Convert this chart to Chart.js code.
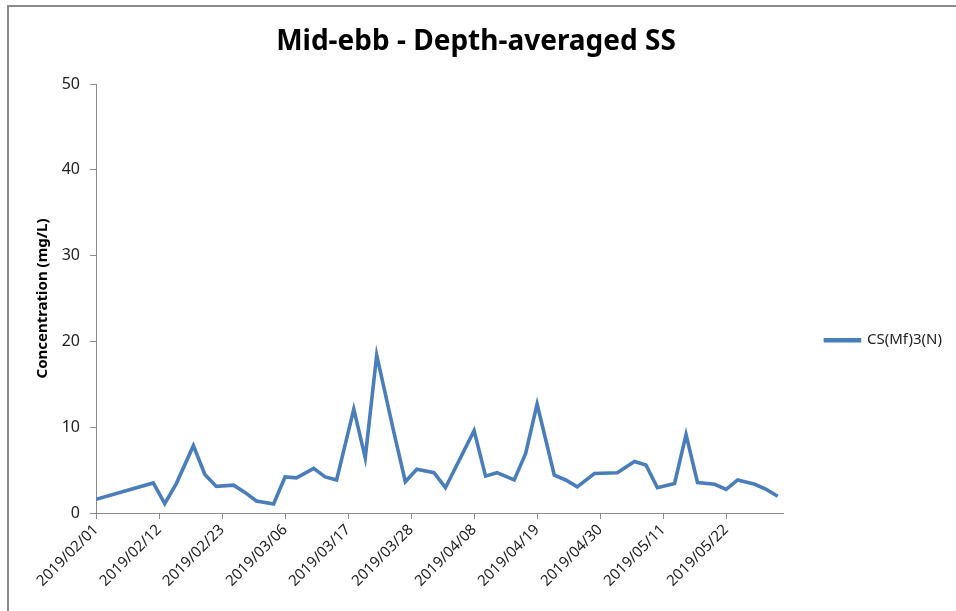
<!DOCTYPE html>
<html>
<head>
<meta charset="utf-8">
<script src="https://cdn.jsdelivr.net/npm/chart.js@4.4.1/dist/chart.umd.min.js"></script>
<style>
  html, body { margin: 0; padding: 0; background: #fff; }
  #wrap { position: relative; width: 956px; height: 611px; overflow: hidden; }
  #frame { position: absolute; left: 7px; top: 5px; width: 2000px; height: 2000px;
           border-left: 2px solid #8c8c8c; border-top: 2px solid #8c8c8c; }
  #grafico { position: absolute; left: 0; top: 0; }
</style>
</head>
<body>
<div id="wrap">
  <div id="frame"></div>
  <canvas id="grafico" width="956" height="611"></canvas>
</div>
<script>
// Datas de amostragem (Seg/Qua/Sex) e concentrações
const sampleDates = [
  '2019/02/01', '2019/02/11', '2019/02/13', '2019/02/15', '2019/02/18', '2019/02/20',
  '2019/02/22', '2019/02/25', '2019/02/27', '2019/03/01', '2019/03/04', '2019/03/06',
  '2019/03/08', '2019/03/11', '2019/03/13', '2019/03/15', '2019/03/18', '2019/03/20',
  '2019/03/22', '2019/03/25', '2019/03/27', '2019/03/29', '2019/04/01', '2019/04/03',
  '2019/04/08', '2019/04/10', '2019/04/12', '2019/04/15', '2019/04/17', '2019/04/19',
  '2019/04/22', '2019/04/24', '2019/04/26', '2019/04/29', '2019/05/03', '2019/05/06',
  '2019/05/08', '2019/05/10', '2019/05/13', '2019/05/15', '2019/05/17', '2019/05/20',
  '2019/05/22', '2019/05/24', '2019/05/27', '2019/05/29', '2019/05/31'
];
const seriesValues = [
  1.6, 3.5, 1.1, 3.4, 7.85, 4.5,
  3.1, 3.25, 2.4, 1.4, 1.05, 4.2,
  4.1, 5.2, 4.2, 3.85, 12.1, 6.45,
  18.4, 9.4, 3.65, 5.1, 4.7, 2.95,
  9.6, 4.3, 4.7, 3.85, 6.95, 12.7,
  4.4, 3.85, 3.05, 4.6, 4.7, 6.0,
  5.6, 2.95, 3.45, 9.15, 3.55, 3.35,
  2.75, 3.85, 3.35, 2.75, 1.95
];
const seriesName = 'CS(Mf)3(N)';
const axisStart = '2019/02/01';
const axisEnd = '2019/06/01';
const xStepDays = 11;
const yTicks = [0, 10, 20, 30, 40, 50];

// Conversão de datas em dias desde o início do eixo
function paraDias(str) {
  const p = str.split('/').map(Number);
  const t0 = axisStart.split('/').map(Number);
  return Math.round((Date.UTC(p[0], p[1] - 1, p[2]) - Date.UTC(t0[0], t0[1] - 1, t0[2])) / 86400000);
}
function formatarData(dias) {
  const t0 = axisStart.split('/').map(Number);
  const d = new Date(Date.UTC(t0[0], t0[1] - 1, t0[2]) + dias * 86400000);
  const mm = String(d.getUTCMonth() + 1).padStart(2, '0');
  const dd = String(d.getUTCDate()).padStart(2, '0');
  return d.getUTCFullYear() + '/' + mm + '/' + dd;
}

const maxDias = paraDias(axisEnd);
const pontos = sampleDates.map((d, i) => ({ x: paraDias(d), y: seriesValues[i] }));

const FONTE = "'Noto Sans', 'DejaVu Sans', sans-serif";
const CINZA = '#8c8c8c';

new Chart(document.getElementById('grafico'), {
  type: 'line',
  data: {
    datasets: [{
      label: seriesName,
      data: pontos,
      borderColor: '#4a7ebb',
      backgroundColor: '#4a7ebb',
      borderWidth: 3.6,
      pointRadius: 0,
      tension: 0
    }]
  },
  options: {
    responsive: false,
    animation: false,
    layout: { padding: { left: 0, right: 4, top: 0, bottom: 0 } },
    plugins: {
      title: {
        display: true,
        text: 'Mid-ebb - Depth-averaged SS',
        color: '#000',
        font: { family: FONTE, size: 28, weight: 'bold' },
        padding: { top: 25.2, bottom: 25.2 }
      },
      legend: {
        position: 'right',
        title: { display: true, text: ' ', padding: { top: 0, bottom: 55 } },
        labels: {
          boxWidth: 34,
          boxHeight: 1,
          padding: 42,
          color: '#222',
          font: { family: FONTE, size: 15 }
        }
      },
      tooltip: { enabled: false }
    },
    scales: {
      x: {
        type: 'linear',
        min: 0,
        max: maxDias,
        afterBuildTicks: function(scale) {
          const t = [];
          for (let v = 0; v <= maxDias; v += xStepDays) t.push({ value: v });
          scale.ticks = t;
        },
        afterFit: function(scale) { scale.height = 98; },
        grid: { display: true, drawOnChartArea: false, drawTicks: true, tickLength: 6, color: CINZA },
        border: { display: true, color: CINZA, width: 1 },
        ticks: {
          minRotation: 45,
          maxRotation: 45,
          padding: 2,
          color: '#222',
          font: { family: FONTE, size: 15 },
          callback: function(v) { return formatarData(v); }
        }
      },
      y: {
        min: yTicks[0],
        max: yTicks[yTicks.length - 1],
        afterBuildTicks: function(scale) {
          scale.ticks = yTicks.map(v => ({ value: v }));
        },
        afterFit: function(scale) { scale.width = 96; },
        grid: { display: true, drawOnChartArea: false, drawTicks: true, tickLength: 6, color: CINZA },
        border: { display: true, color: CINZA, width: 1 },
        ticks: {
          padding: 10,
          color: '#222',
          font: { family: FONTE, size: 16 }
        },
        title: {
          display: true,
          text: 'Concentration (mg/L)',
          color: '#000',
          font: { family: FONTE, size: 15, weight: 'bold' },
          padding: { top: 34, bottom: 0 }
        }
      }
    }
  }
});
</script>
</body>
</html>
